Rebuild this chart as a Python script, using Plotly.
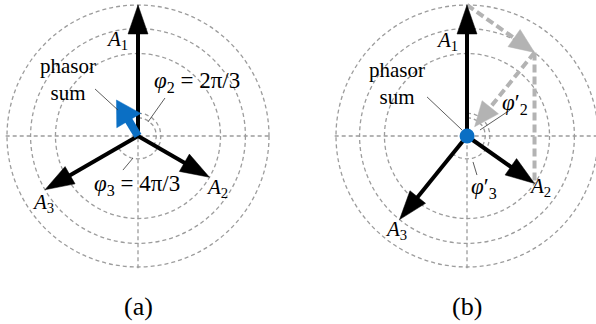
import numpy as np
import plotly.graph_objects as go

# ---- data -------------------------------------------------------------
# phasor amplitudes A1, A2, A3 (A1 normalised to 1)
amplitudes = [1.0, 0.63, 0.82]
# phases measured clockwise from A1, in degrees
phases_a = [0.0, 120.0, 240.0]      # φ2 = 2π/3, φ3 = 4π/3
phases_b = [0.0, 125.1, 218.9]      # φ2', φ3' chosen so the phasors cancel
ring_radii = [0.63, 0.82, 1.0]
phasor_names = ["A<sub>1</sub>", "A<sub>2</sub>", "A<sub>3</sub>"]
panel_titles = ["(a)", "(b)"]
sum_label = "phasor<br>sum"
phase_labels_a = ["<i>φ</i><sub>2</sub> = 2π/3", "<i>φ</i><sub>3</sub> = 4π/3"]
phase_labels_b = ["<i>φ</i>′<sub>2</sub>", "<i>φ</i>′<sub>3</sub>"]

# ---- styling ----------------------------------------------------------
PX = 131.0                      # pixels per unit amplitude
SERIF = "Liberation Serif"
GRID = "#9c9c9c"
BLUE = "#0b6fc4"
GREY = "#b3b3b3"


def phasor_xy(amp, phase_deg):
    ang = np.deg2rad(90.0 - phase_deg)
    return amp * np.cos(ang), amp * np.sin(ang)


def arrow(x0, y0, x1, y1, width, color, head_len, head_half, dash="solid", stop=0.0):
    """Shaft plus filled triangular head; sizes given in pixels."""
    dx, dy = x1 - x0, y1 - y0
    L = np.hypot(dx, dy)
    ux, uy = dx / L, dy / L
    tx, ty = x1 - ux * stop / PX, y1 - uy * stop / PX
    bx, by = tx - ux * head_len / PX, ty - uy * head_len / PX
    px, py = -uy * head_half / PX, ux * head_half / PX
    shaft = go.Scatter(x=[x0, bx + ux * 2 / PX], y=[y0, by + uy * 2 / PX], mode="lines",
                       line=dict(color=color, width=width, dash=dash),
                       hoverinfo="skip", showlegend=False)
    head = go.Scatter(x=[tx, bx + px, bx - px, tx], y=[ty, by + py, by - py, ty],
                      mode="lines", fill="toself", fillcolor=color,
                      line=dict(color=color, width=0.5), hoverinfo="skip", showlegend=False)
    return [shaft, head]


def arc(r, start_deg, end_deg, n=80):
    t = np.deg2rad(np.linspace(start_deg, end_deg, n))
    return r * np.cos(t), r * np.sin(t)


fig = go.Figure()
shapes = []
annotations = []

# pixel centres of the two panels -> axis ranges with 1 unit = PX pixels
panels = [dict(cx=138.0, x0=0.0, x1=298.0), dict(cx=467.0, x0=298.0, x1=596.0)]
CY = 136.0
H = 324.0

for k, (xa, ya) in enumerate([("x", "y"), ("x2", "y2")]):
    # dashed rings
    for r in ring_radii:
        shapes.append(dict(type="circle", xref=xa, yref=ya, x0=-r, x1=r, y0=-r, y1=r,
                           line=dict(color=GRID, width=1.3, dash="4px,3px"), layer="below"))
    # dashed cross hairs
    xr = 1.02 if k == 0 else 1.2
    shapes.append(dict(type="line", xref=xa, yref=ya, x0=-1.01, x1=xr, y0=0, y1=0,
                       line=dict(color=GRID, width=1.3, dash="4px,3px"), layer="below"))
    shapes.append(dict(type="line", xref=xa, yref=ya, x0=0, x1=0, y0=-1.01, y1=1.01,
                       line=dict(color=GRID, width=1.3, dash="4px,3px"), layer="below"))

    phases = phases_a if k == 0 else phases_b
    tips = [phasor_xy(a, p) for a, p in zip(amplitudes, phases)]

    # angle arcs
    for r, ph in zip([0.14, 0.175], phases[1:]):
        ax_, ay_ = arc(r, 90.0, 90.0 - ph)
        fig.add_trace(go.Scatter(x=ax_, y=ay_, mode="lines", xaxis=xa, yaxis=ya,
                                 line=dict(color=GRID, width=1.3, dash="4px,3px"),
                                 hoverinfo="skip", showlegend=False))

    sx = sum(t[0] for t in tips)
    sy = sum(t[1] for t in tips)

    if k == 1:
        # head-to-tail construction of the sum
        p1 = tips[0]
        p2 = (p1[0] + tips[1][0], p1[1] + tips[1][1])
        p3 = (p2[0] + tips[2][0], p2[1] + tips[2][1])
        fig.add_trace(go.Scatter(x=[p2[0], tips[1][0]], y=[p2[1], tips[1][1]], mode="lines",
                                 xaxis=xa, yaxis=ya,
                                 line=dict(color=GREY, width=4, dash="8px,4px"),
                                 hoverinfo="skip", showlegend=False))
        for tr in arrow(p1[0], p1[1], p2[0], p2[1], 4, GREY, 25, 10.5, dash="8px,4px"):
            tr.update(xaxis=xa, yaxis=ya)
            fig.add_trace(tr)
        for tr in arrow(p2[0], p2[1], p3[0], p3[1], 4, GREY, 25, 10.5, dash="8px,4px", stop=12):
            tr.update(xaxis=xa, yaxis=ya)
            fig.add_trace(tr)

    # the three phasors
    for (tx, ty) in tips:
        for tr in arrow(0, 0, tx, ty, 4, "black", 29, 10):
            tr.update(xaxis=xa, yaxis=ya)
            fig.add_trace(tr)

    # phasor sum
    if k == 0:
        for tr in arrow(0, 0, sx, sy, 8, BLUE, 24, 14):
            tr.update(xaxis=xa, yaxis=ya)
            fig.add_trace(tr)
    else:
        fig.add_trace(go.Scatter(x=[sx], y=[sy], mode="markers", xaxis=xa, yaxis=ya,
                                 marker=dict(color=BLUE, size=15, line=dict(width=0)),
                                 hoverinfo="skip", showlegend=False))

# ---- labels and leader lines --------------------------------------------
label_pos = [
    dict(names=[(-0.16, 0.733), (0.603, -0.397), (-0.725, -0.511)],
         sum=(-0.534, 0.43), sum_lead=((-0.328, 0.359), (-0.153, 0.198)),
         phase=[(0.45, 0.412), (-0.008, -0.374)],
         phase_lead=[((0.206, 0.29), (0.076, 0.107)), ((-0.115, -0.26), (-0.038, -0.168))]),
    dict(names=[(-0.153, 0.725), (0.557, -0.389), (-0.542, -0.718)],
         sum=(-0.538, 0.40), sum_lead=((-0.305, 0.298), (-0.038, 0.046)),
         phase=[(0.366, 0.244), (0.13, -0.397)],
         phase_lead=[((0.328, 0.198), (0.099, 0.046)), ((0.046, -0.198), (0.076, -0.298))]),
]
phase_texts = [phase_labels_a, phase_labels_b]

for k, (xa, ya) in enumerate([("x", "y"), ("x2", "y2")]):
    lp = label_pos[k]
    for name, (lx, ly) in zip(phasor_names, lp["names"]):
        annotations.append(dict(x=lx, y=ly, xref=xa, yref=ya,
                                text="<i>" + name.replace("<sub>", "</i><sub>"),
                                showarrow=False, font=dict(family=SERIF, size=21, color="black")))
    annotations.append(dict(x=lp["sum"][0], y=lp["sum"][1], xref=xa, yref=ya, text=sum_label,
                            showarrow=False, align="center",
                            font=dict(family=SERIF, size=21, color="black")))
    for txt, (lx, ly) in zip(phase_texts[k], lp["phase"]):
        annotations.append(dict(x=lx, y=ly, xref=xa, yref=ya, text=txt, showarrow=False,
                                font=dict(family=SERIF, size=23, color="black")))
    leads = [lp["sum_lead"]] + lp["phase_lead"]
    for (a0, a1) in leads:
        fig.add_trace(go.Scatter(x=[a0[0], a1[0]], y=[a0[1], a1[1]], mode="lines",
                                 xaxis=xa, yaxis=ya, line=dict(color="#333333", width=0.8),
                                 hoverinfo="skip", showlegend=False))
    annotations.append(dict(x=0, y=-(306 - CY) / PX, xref=xa, yref=ya, text=panel_titles[k],
                            showarrow=False, font=dict(family=SERIF, size=26, color="black")))

layout_axes = {}
for k, p in enumerate(panels):
    sfx = "" if k == 0 else "2"
    layout_axes["xaxis" + sfx] = dict(domain=[p["x0"] / 596, p["x1"] / 596],
                                      range=[-(p["cx"] - p["x0"]) / PX, (p["x1"] - p["cx"]) / PX],
                                      visible=False, fixedrange=True)
    layout_axes["yaxis" + sfx] = dict(domain=[0, 1], range=[-(H - CY) / PX, CY / PX],
                                      visible=False, fixedrange=True,
                                      anchor="x" + sfx if sfx else "x")

fig.update_layout(
    width=596, height=324,
    margin=dict(l=0, r=0, t=0, b=0),
    paper_bgcolor="white", plot_bgcolor="white",
    font=dict(family=SERIF),
    shapes=shapes, annotations=annotations,
    showlegend=False,
    **layout_axes,
)

fig.write_html("out.html")
